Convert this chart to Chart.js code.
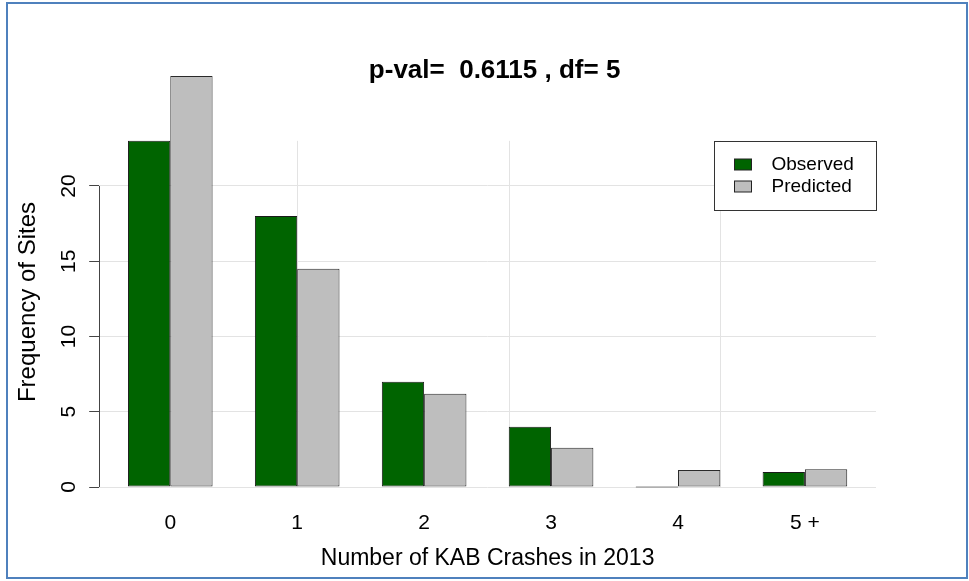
<!DOCTYPE html>
<html>
<head>
<meta charset="utf-8">
<title>Observed vs Predicted KAB crashes</title>
<script src="https://cdn.jsdelivr.net/npm/chart.js@4.4.1/dist/chart.umd.min.js"></script>
<style>
  html, body { margin: 0; padding: 0; background: #fff; }
  #wrap { position: relative; width: 969px; height: 581px; }
  #frame { position: absolute; left: 6px; top: 2px; width: 962px; height: 577px;
           border: 2px solid #4f81bd; box-sizing: border-box; pointer-events: none; }
</style>
</head>
<body>
<div id="wrap">
  <canvas id="chart" width="969" height="581"></canvas>
  <div id="frame"></div>
</div>
<script>
// datos
var categories = ['0', '1', '2', '3', '4', '5 +'];
var observed   = [23, 18, 7, 4, 0, 1];
var predicted  = [27.3, 14.5, 6.2, 2.6, 1.13, 1.18];
var yTicks     = [0, 5, 10, 15, 20];
var gridX      = [5, 10, 15];   // lineas verticales de grid()
var gridTop    = 23;
var legendTop  = 23;
var titleText  = 'p-val=  0.6115 , df= 5';

var FONT = "'Liberation Sans', Arial, sans-serif";

// barplot de R: cada barra mide 1, espacio de 1 antes de cada grupo
var xPos = categories.map(function (c, i) { return 2 + 3 * i; });

var rPlotExtras = {
    id: 'rPlotExtras',
    beforeDatasetsDraw: function (chart) {
        var ctx = chart.ctx, x = chart.scales.x, y = chart.scales.y;
        ctx.save();
        ctx.strokeStyle = '#e3e3e3';
        ctx.lineWidth = 1;
        gridX.forEach(function (v) {
            var px = Math.round(x.getPixelForValue(v)) + 0.5;
            ctx.beginPath();
            ctx.moveTo(px, y.getPixelForValue(gridTop));
            ctx.lineTo(px, y.getPixelForValue(0));
            ctx.stroke();
        });
        // eje y solo entre 0 y 20
        var ax = Math.round(chart.chartArea.left) + 0.5;
        ctx.strokeStyle = '#444';
        ctx.beginPath();
        ctx.moveTo(ax, y.getPixelForValue(yTicks[0]));
        ctx.lineTo(ax, y.getPixelForValue(yTicks[yTicks.length - 1]));
        ctx.stroke();
        ctx.restore();
    },
    afterDraw: function (chart) {
        var ctx = chart.ctx, area = chart.chartArea, y = chart.scales.y;
        ctx.save();
        // titulo
        ctx.fillStyle = '#000';
        ctx.font = 'bold 26px ' + FONT;
        ctx.textAlign = 'center';
        ctx.textBaseline = 'alphabetic';
        ctx.fillText(titleText, (area.left + area.right) / 2 + 7, 78);

        // leyenda
        var w = 162, h = 69;
        var lx = Math.round(area.right - w) + 0.5;
        var ly = Math.round(y.getPixelForValue(legendTop)) + 0.5;
        ctx.fillStyle = '#fff';
        ctx.fillRect(lx, ly, w, h);
        ctx.strokeStyle = '#333';
        ctx.lineWidth = 1;
        ctx.strokeRect(lx, ly, w, h);
        ctx.font = '19px ' + FONT;
        ctx.textAlign = 'left';
        ctx.textBaseline = 'middle';
        chart.data.datasets.forEach(function (ds, i) {
            var cy = ly + 23 + i * 22;
            ctx.fillStyle = ds.backgroundColor;
            ctx.fillRect(lx + 20, cy - 5.5, 17, 11);
            ctx.strokeStyle = '#222';
            ctx.strokeRect(lx + 20, cy - 5.5, 17, 11);
            ctx.fillStyle = '#000';
            ctx.fillText(ds.label, lx + 57, cy);
        });
        ctx.restore();
    }
};

var ctx = document.getElementById('chart');

var chart = new Chart(ctx, {
    type: 'bar',
    data: {
        datasets: [
            {
                label: 'Observed',
                data: observed.map(function (v, i) { return { x: xPos[i], y: v }; }),
                backgroundColor: '#006400',
                borderColor: '#1a1a1a',
                borderWidth: 1,
                borderSkipped: false,
                minBarLength: 1,
                clip: false,
                categoryPercentage: 2 / 3,
                barPercentage: 1
            },
            {
                label: 'Predicted',
                data: predicted.map(function (v, i) { return { x: xPos[i], y: v }; }),
                backgroundColor: '#bebebe',
                borderColor: '#2a2a2a',
                borderWidth: 1,
                borderSkipped: false,
                clip: false,
                categoryPercentage: 2 / 3,
                barPercentage: 1
            }
        ]
    },
    options: {
        responsive: false,
        animation: false,
        devicePixelRatio: 1,
        layout: { padding: { left: 0, right: 93, top: 100.5, bottom: 0 } },
        plugins: {
            legend: { display: false },
            title: { display: false },
            tooltip: { enabled: false }
        },
        scales: {
            x: {
                type: 'linear',
                min: 0.32,
                max: 18.68,
                offset: false,
                grid: { display: false, offset: false, drawTicks: false },
                border: { display: false },
                afterBuildTicks: function (s) {
                    s.ticks = xPos.map(function (v) { return { value: v }; });
                },
                afterFit: function (s) { s.height = 77.5; },
                ticks: {
                    autoSkip: false,
                    maxRotation: 0,
                    padding: 7,
                    color: '#000',
                    font: { family: FONT, size: 21 },
                    callback: function (v, i) { return categories[i]; }
                },
                title: {
                    display: true,
                    text: 'Number of KAB Crashes in 2013',
                    color: '#000',
                    font: { family: FONT, size: 23 },
                    padding: { top: 4, bottom: 9 }
                }
            },
            y: {
                min: -1.096,
                max: 25.68,
                afterBuildTicks: function (s) {
                    s.ticks = yTicks.map(function (v) { return { value: v }; });
                },
                afterFit: function (s) { s.width = 99.2; },
                grid: { color: '#e3e3e3', tickColor: '#444', tickLength: 10, lineWidth: 1 },
                border: { display: false },
                ticks: {
                    minRotation: 90,
                    maxRotation: 90,
                    crossAlign: 'center',
                    padding: 8,
                    color: '#000',
                    font: { family: FONT, size: 21 }
                },
                title: {
                    display: true,
                    text: 'Frequency of Sites',
                    color: '#000',
                    font: { family: FONT, size: 24 },
                    padding: { top: 14, bottom: 0 }
                }
            }
        }
    },
    plugins: [rPlotExtras]
});
</script>
</body>
</html>
